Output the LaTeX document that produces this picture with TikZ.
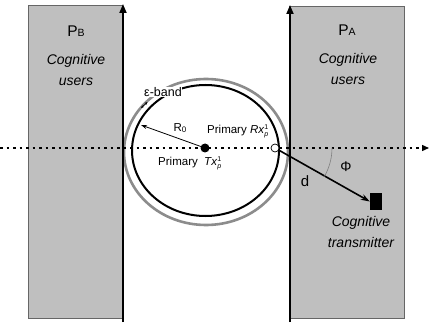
\documentclass[tikz,border=0pt]{standalone}
\usepackage{fontspec}
\setmainfont{Liberation Sans}
\usetikzlibrary{arrows.meta}
\definecolor{panel}{HTML}{BFBFBF}
\definecolor{ring}{HTML}{8C8C8C}
\begin{document}
\begin{tikzpicture}[x=1pt,y=1pt,
  panelbox/.style={fill=panel,draw=gray!80!black,line width=0.6pt},
  axisarrow/.style={line width=1.8pt,-{Triangle[length=9pt,width=7pt]}},
  bigtxt/.style={font=\fontsize{14}{17}\selectfont\itshape,align=center,inner sep=0pt},
  lbl/.style={font=\fontsize{11.5}{13}\selectfont,inner sep=0.5pt}]
\useasboundingbox (0,0) rectangle (429,322);
% panels
\path[panelbox] (28,4) rectangle (122,317);
\path[panelbox] (289,4) rectangle (404,316);
% rings
\draw[ring,line width=2.6pt] (206,170) ellipse [x radius=82,y radius=73];
\draw[black,line width=2pt] (205.5,171.5) ellipse [x radius=73.5,y radius=65.5];
% dotted axis
\coordinate (axL) at (0,174);
\coordinate (axR) at (429,174);
\draw[line width=1.3pt,dash pattern=on 2.5pt off 4pt,-{Triangle[length=7pt,width=6pt]}] (axL) -- (axR);
% vertical arrows
\coordinate (lb) at (123,0); \coordinate (lt) at (123,318);
\coordinate (rb) at (290,0); \coordinate (rt) at (290,317);
\draw[axisarrow] (lb) -- (lt);
\draw[axisarrow] (rb) -- (rt);
% nodes
\node[circle,fill=black,minimum size=9pt,inner sep=0pt] (Tx) at (205,174) {};
\node[circle,draw=black,fill=white,line width=0.7pt,minimum size=8pt,inner sep=0pt] (Rx) at (275,174) {};
\node[rectangle,fill=black,minimum width=12pt,minimum height=17pt,inner sep=0pt] (sq) at (376,120.5) {};
% R0 arrow
\coordinate (r0end) at (141,197);
\draw[line width=0.8pt,-{Stealth[length=6pt,width=4pt]}] (Tx.center) -- (r0end);
% d arrow
\draw[line width=1.6pt,-{Stealth[length=9pt,width=6pt]}] (Rx) -- (sq.west);
% phi arc
\draw[gray,line width=0.6pt] (275,174) ++(0:57) arc[start angle=0,end angle=-30,radius=57];
% epsilon band label and tiny arrow
\node[lbl,fill=white,font=\fontsize{12.5}{14}\selectfont] (eps) at (163,230) {ε-band};
\coordinate (e1) at (147.5,220); \coordinate (e2) at (141,214);
\draw[line width=0.7pt,{Stealth[length=3pt,width=2.5pt]}-{Stealth[length=3pt,width=2.5pt]}] (e1) -- (e2);
% labels
\node[font=\fontsize{11.5}{13}\selectfont] (R0) at (180,194) {R\raisebox{-0.5pt}{\fontsize{8}{9}\selectfont 0}};
\node[lbl] (RxL) at (238,191) {Primary \textit{Rx}$^{\mbox{\scriptsize 1}}_{\mbox{\scriptsize\itshape p}}$};
\node[lbl] (TxL) at (190,159) {Primary\ \ \textit{Tx}$^{\mbox{\scriptsize 1}}_{\mbox{\scriptsize\itshape p}}$};
\node[font=\fontsize{15}{17}\selectfont] (dL) at (305,141) {d};
\node[font=\fontsize{14}{16}\selectfont] (phiL) at (346,155) {Φ};
% panel texts
\node[inner sep=0pt] (PB) at (76,291) {{\fontsize{15.5}{18}\selectfont P}{\fontsize{10.5}{12}\selectfont B}};
\node[bigtxt] (cuB) at (76,252) {Cognitive\\[4pt]users};
\node[inner sep=0pt] (PA) at (347,292) {{\fontsize{15.5}{18}\selectfont P}{\fontsize{10.5}{12}\selectfont A}};
\node[bigtxt] (cuA) at (348,253) {Cognitive\\[4pt]users};
\node[bigtxt] (ctL) at (361,90) {Cognitive\\[4pt]transmitter};
\end{tikzpicture}
\end{document}
